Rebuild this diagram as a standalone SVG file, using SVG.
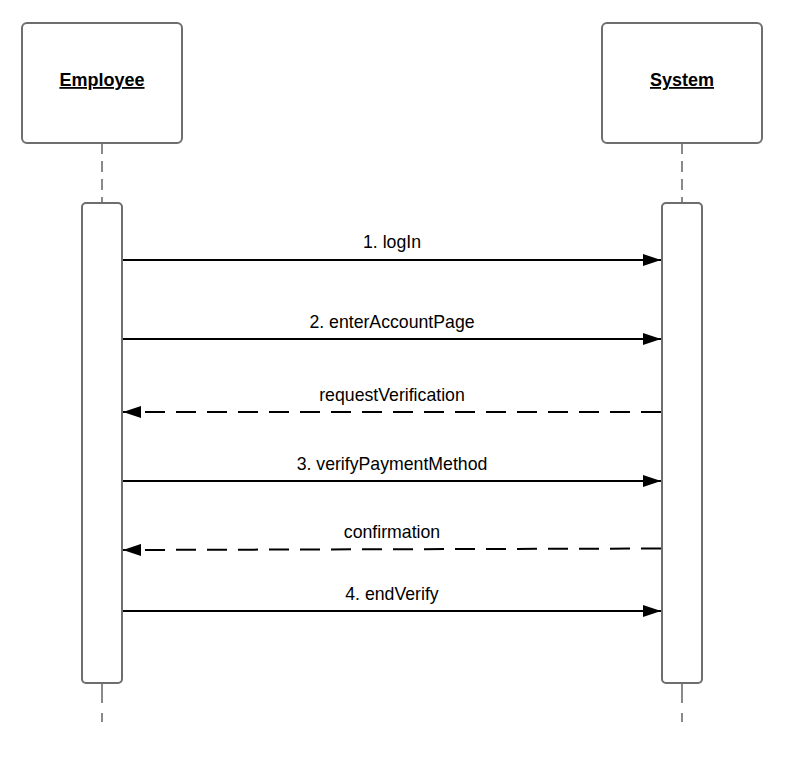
<svg xmlns="http://www.w3.org/2000/svg" width="795" height="758" viewBox="0 0 795 758">
<style>
.box{fill:#fff;stroke:#6e6e6e;stroke-width:2}
.life{stroke:#8a8a8a;stroke-width:2;stroke-dasharray:11 7;fill:none}
.title{font-family:"Liberation Sans",Arial,sans-serif;font-size:18px;font-weight:bold;text-decoration:underline;text-anchor:middle;fill:#000}
.lbl{font-family:"Liberation Sans",Arial,sans-serif;font-size:17.7px;text-anchor:middle;fill:#000}
.msg{stroke:#000;stroke-width:2;fill:none}
.ret{stroke:#000;stroke-width:2;fill:none;stroke-dasharray:20 11}
</style>
<defs>
<marker id="ah" viewBox="0 0 18 12" refX="18" refY="6" markerWidth="18" markerHeight="12" markerUnits="userSpaceOnUse" orient="auto">
<path d="M0,0 L18,6 L0,12 Z" fill="#000"/>
</marker>
</defs>
<rect width="795" height="758" fill="#fff"/>
<g id="employee">
<line class="life" x1="102" y1="143" x2="102" y2="203"/>
<line class="life" x1="102" y1="683" x2="102" y2="722" style="stroke-dasharray:20 10"/>
<rect class="box" x="22" y="23" width="160" height="120" rx="5"/>
<text class="title" x="102" y="86">Employee</text>
<rect class="box" x="82" y="203" width="40" height="480" rx="4"/>
</g>
<g id="system">
<line class="life" x1="682" y1="143" x2="682" y2="203"/>
<line class="life" x1="682" y1="683" x2="682" y2="722" style="stroke-dasharray:20 10"/>
<rect class="box" x="602" y="23" width="160" height="120" rx="5"/>
<text class="title" x="682" y="86">System</text>
<rect class="box" x="662" y="203" width="40" height="480" rx="4"/>
</g>
<g id="connectors">
<line class="msg" x1="123" y1="260" x2="661" y2="260" marker-end="url(#ah)"/>
<text class="lbl" x="392" y="248">1. logIn</text>
<line class="msg" x1="123" y1="339" x2="661" y2="339" marker-end="url(#ah)"/>
<text class="lbl" x="392" y="328">2. enterAccountPage</text>
<line class="ret" x1="661" y1="412" x2="123" y2="412" marker-end="url(#ah)"/>
<text class="lbl" x="392" y="401">requestVerification</text>
<line class="msg" x1="123" y1="481" x2="661" y2="481" marker-end="url(#ah)"/>
<text class="lbl" x="392" y="470">3. verifyPaymentMethod</text>
<path class="ret" d="M661,548.5 L123,550" marker-end="url(#ah)"/>
<text class="lbl" x="392" y="538">confirmation</text>
<line class="msg" x1="123" y1="611" x2="661" y2="611" marker-end="url(#ah)"/>
<text class="lbl" x="392" y="600">4. endVerify</text>
</g>
</svg>
